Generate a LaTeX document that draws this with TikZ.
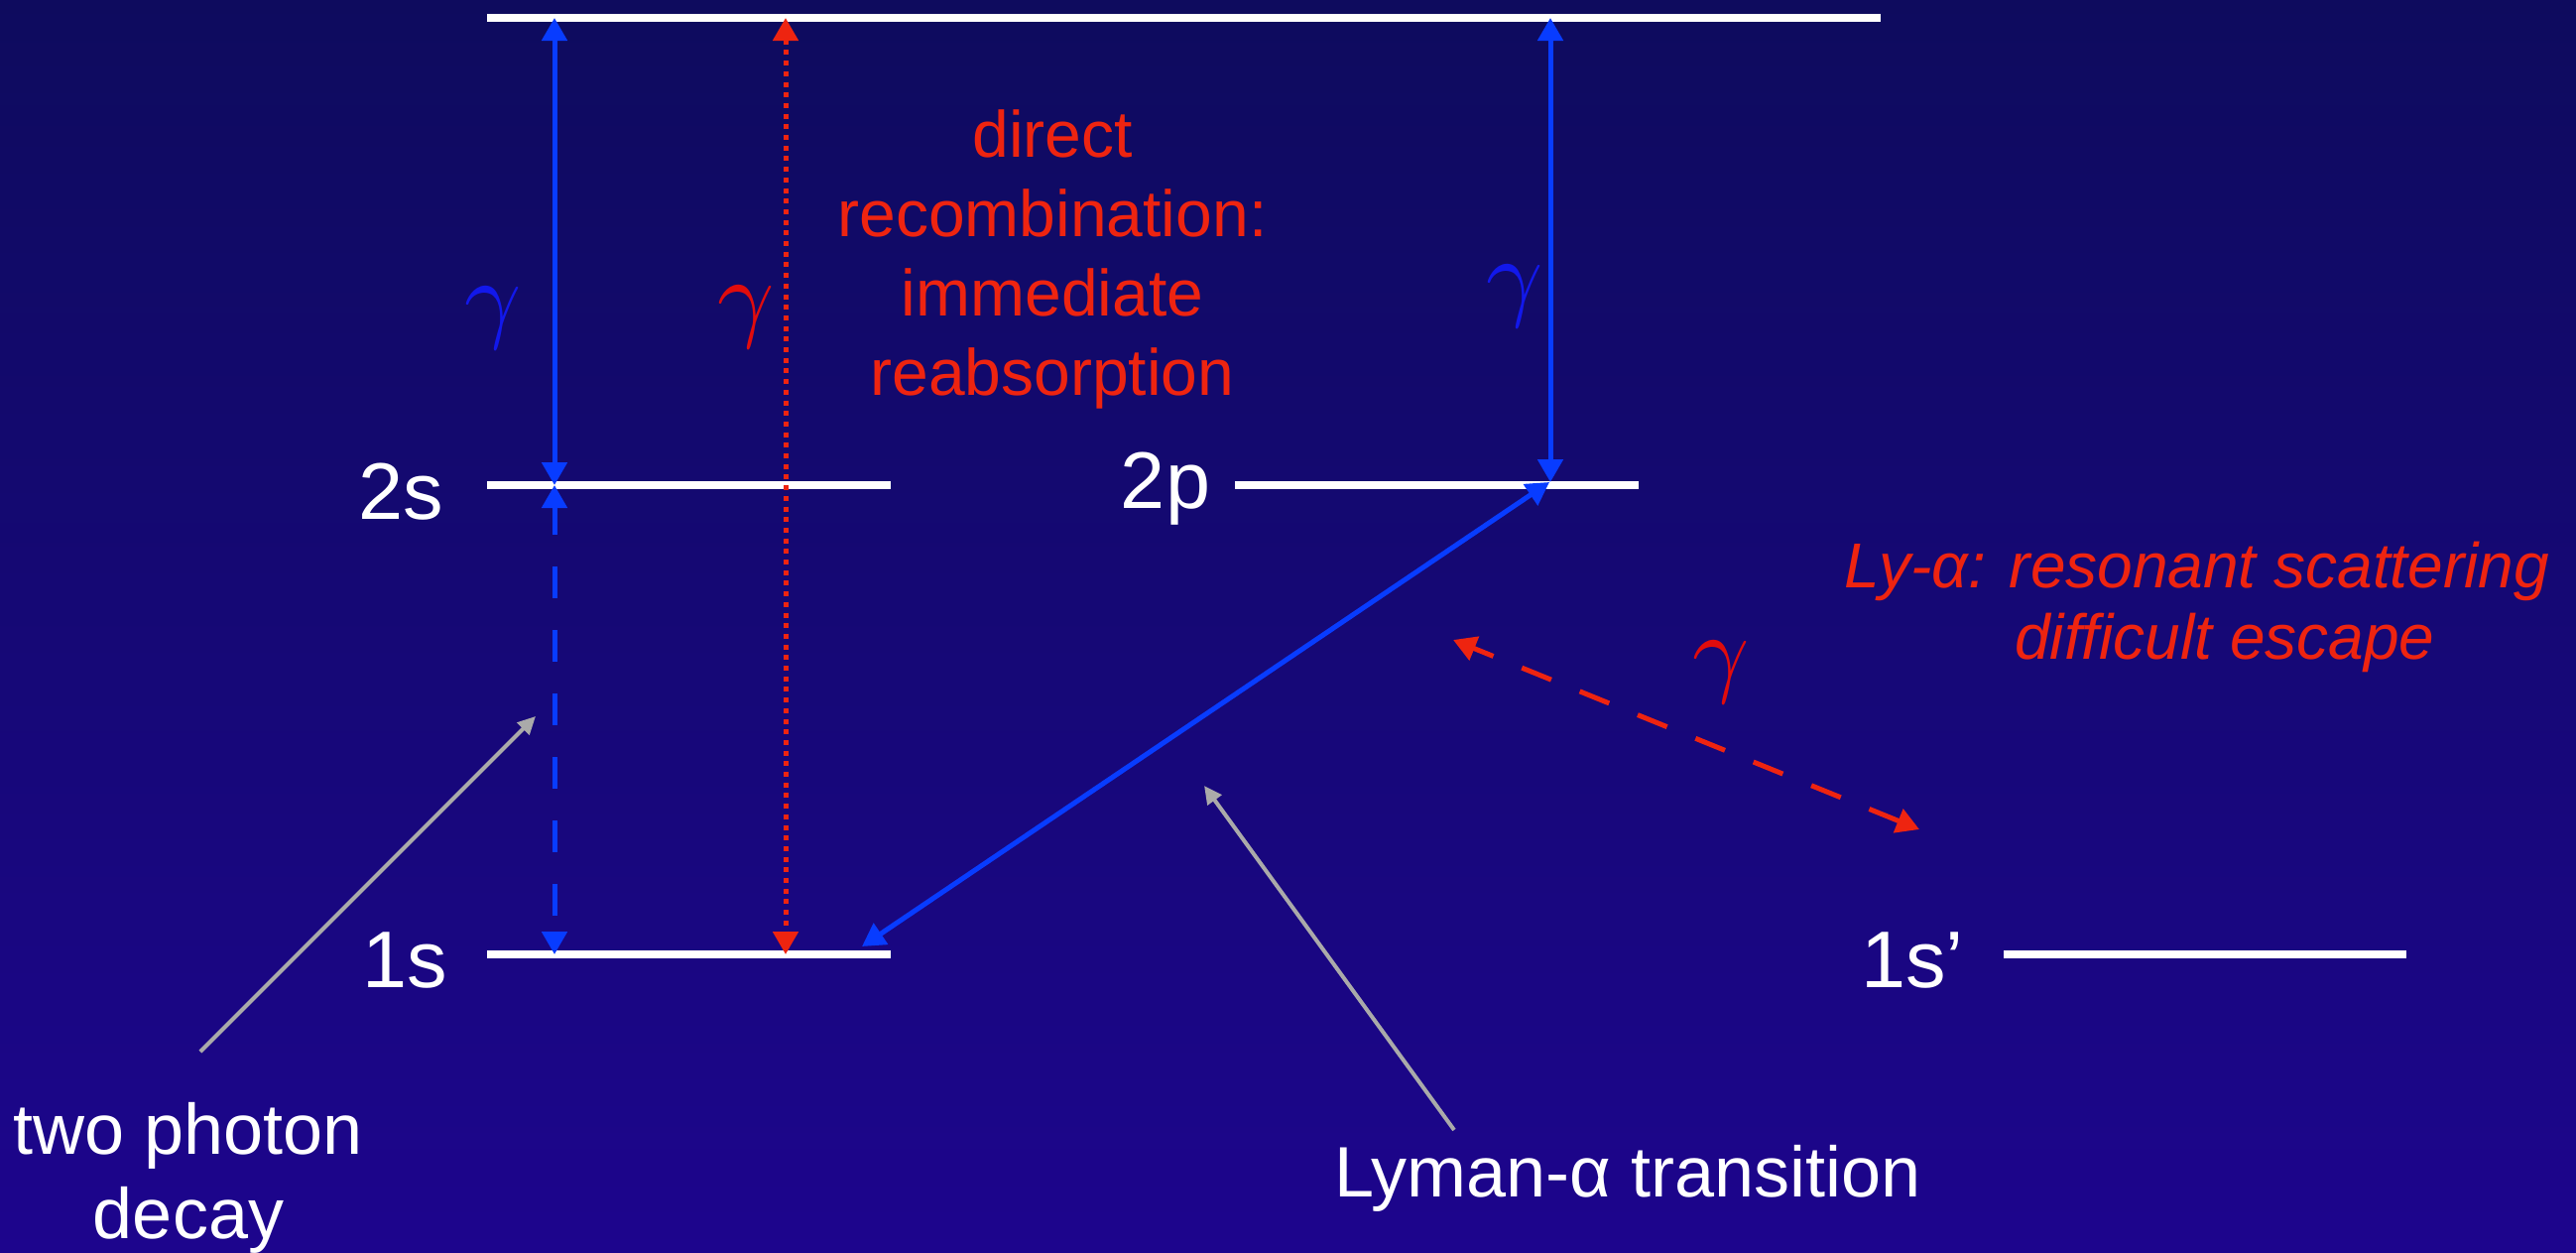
\documentclass[tikz,border=0pt]{standalone}
\usepackage{graphicx}
\usepackage{fontspec}
\setmainfont{Liberation Sans}
\usetikzlibrary{arrows.meta}
\definecolor{bgtop}{RGB}{14,11,94}
\definecolor{bgmid}{RGB}{6,14,112}
\definecolor{bgbot}{RGB}{29,5,141}
\definecolor{arrblue}{RGB}{8,60,255}
\definecolor{txtred}{RGB}{238,36,16}
\definecolor{gblue}{RGB}{18,24,235}
\definecolor{gred}{RGB}{225,12,12}
\definecolor{lgray}{RGB}{170,170,170}
\newcommand{\mygam}{\scalebox{10}{$\gamma$}}
\tikzset{
  level/.style={draw=white, line width=8pt},
  dbl/.style={{Triangle[width=25pt,length=23pt]}-{Triangle[width=25pt,length=23pt]}},
  bluearr/.style={draw=arrblue, line width=5pt},
  redarr/.style={draw=txtred, line width=5pt},
  grayarr/.style={draw=lgray, line width=4pt, -{Triangle[width=17pt,length=18pt]}},
  lbl/.style={text=white, inner sep=0pt, font=\fontsize{81}{88}\selectfont},
  wtxt/.style={text=white, inner sep=0pt, font=\fontsize{72}{80}\selectfont},
  redtxt/.style={text=txtred, inner sep=0pt, font=\fontsize{66}{80}\selectfont},
  redit/.style={text=txtred, inner sep=0pt, font=\fontsize{64}{72}\selectfont\itshape},
  gam/.style={inner sep=0pt}
}
\begin{document}
\begin{tikzpicture}[x=1pt,y=-1pt]
\shade[top color=bgtop, middle color=bgmid, bottom color=bgbot] (0,0) rectangle (2597,1262);
\useasboundingbox (0,0) rectangle (2597,1262);

% level endpoints
\coordinate (topL) at (491,18);
\coordinate (topR) at (1896,18);
\coordinate (s2L) at (491,489);
\coordinate (s2R) at (898,489);
\coordinate (p2L) at (1245,489);
\coordinate (p2R) at (1652,489);
\coordinate (s1L) at (491,962);
\coordinate (s1R) at (898,962);
\coordinate (s1pL) at (2020,962);
\coordinate (s1pR) at (2426,962);

\draw[level] (topL) -- (topR);
\draw[level] (s2L) -- (s2R);
\draw[level] (p2L) -- (p2R);
\draw[level] (s1L) -- (s1R);
\draw[level] (s1pL) -- (s1pR);

% arrow end points
\coordinate (aTop) at (559,18);
\coordinate (a2s) at (559,489);
\coordinate (a1s) at (559,962);
\coordinate (rTop) at (792,18);
\coordinate (r1s) at (792,962);
\coordinate (bTop) at (1563,18);
\coordinate (b2p) at (1563,486);
\coordinate (d2p) at (1562,486);
\coordinate (d1s) at (869,954);
\coordinate (eA) at (1465,645);
\coordinate (eB) at (1935,836);

\draw[bluearr, dbl] (aTop) -- (a2s);
\draw[bluearr, dbl, dash pattern=on 32pt off 32pt, dash phase=4pt] (a2s) -- (a1s);
\draw[redarr, dbl, dash pattern=on 5pt off 5.7pt] (rTop) -- (r1s);
\draw[bluearr, dbl] (bTop) -- (b2p);
\draw[bluearr, dbl] (d2p) -- (d1s);
\draw[redarr, dbl, dash pattern=on 32pt off 31pt, dash phase=10pt] (eA) -- (eB);

% level labels
\node[lbl, anchor=base] (l2s) at (404,523) {2s};
\node[lbl, anchor=base] (l2p) at (1175,512) {2p};
\node[lbl, anchor=base] (l1s) at (408,995) {1s};
\node[lbl, anchor=base] (l1sp) at (1928,995) {1s’};

% gammas
\node[gam, text=gblue] (g1) at (497,321) {\mygam};
\node[gam, text=gred] (g2) at (752,320) {\mygam};
\node[gam, text=gblue] (g3) at (1527,299) {\mygam};
\node[gam, text=gred] (g4) at (1735,678) {\mygam};

% red texts
\node[redtxt, align=center] (direct) at (1061,261) {direct\\recombination:\\immediate\\reabsorption};
\node[redit, anchor=base] (lya1) at (2215,592) {Ly-α: resonant scattering};
\node[redit, anchor=base] (lya2) at (2243,664) {difficult escape};

% white bottom texts
\node[wtxt, anchor=base] (two) at (190,1163) {two photon};
\node[wtxt, anchor=base] (decay) at (190,1248) {decay};
\node[wtxt, anchor=base] (lyman) at (1641,1206) {Lyman-α transition};

% gray pointers
\coordinate (gp1s) at (202,1060);
\coordinate (gp1e) at (540,722);
\coordinate (gp2s) at (1466,1139);
\coordinate (gp2e) at (1214,792);
\draw[grayarr] (gp1s) -- (gp1e);
\draw[grayarr] (gp2s) -- (gp2e);
\end{tikzpicture}
\end{document}
